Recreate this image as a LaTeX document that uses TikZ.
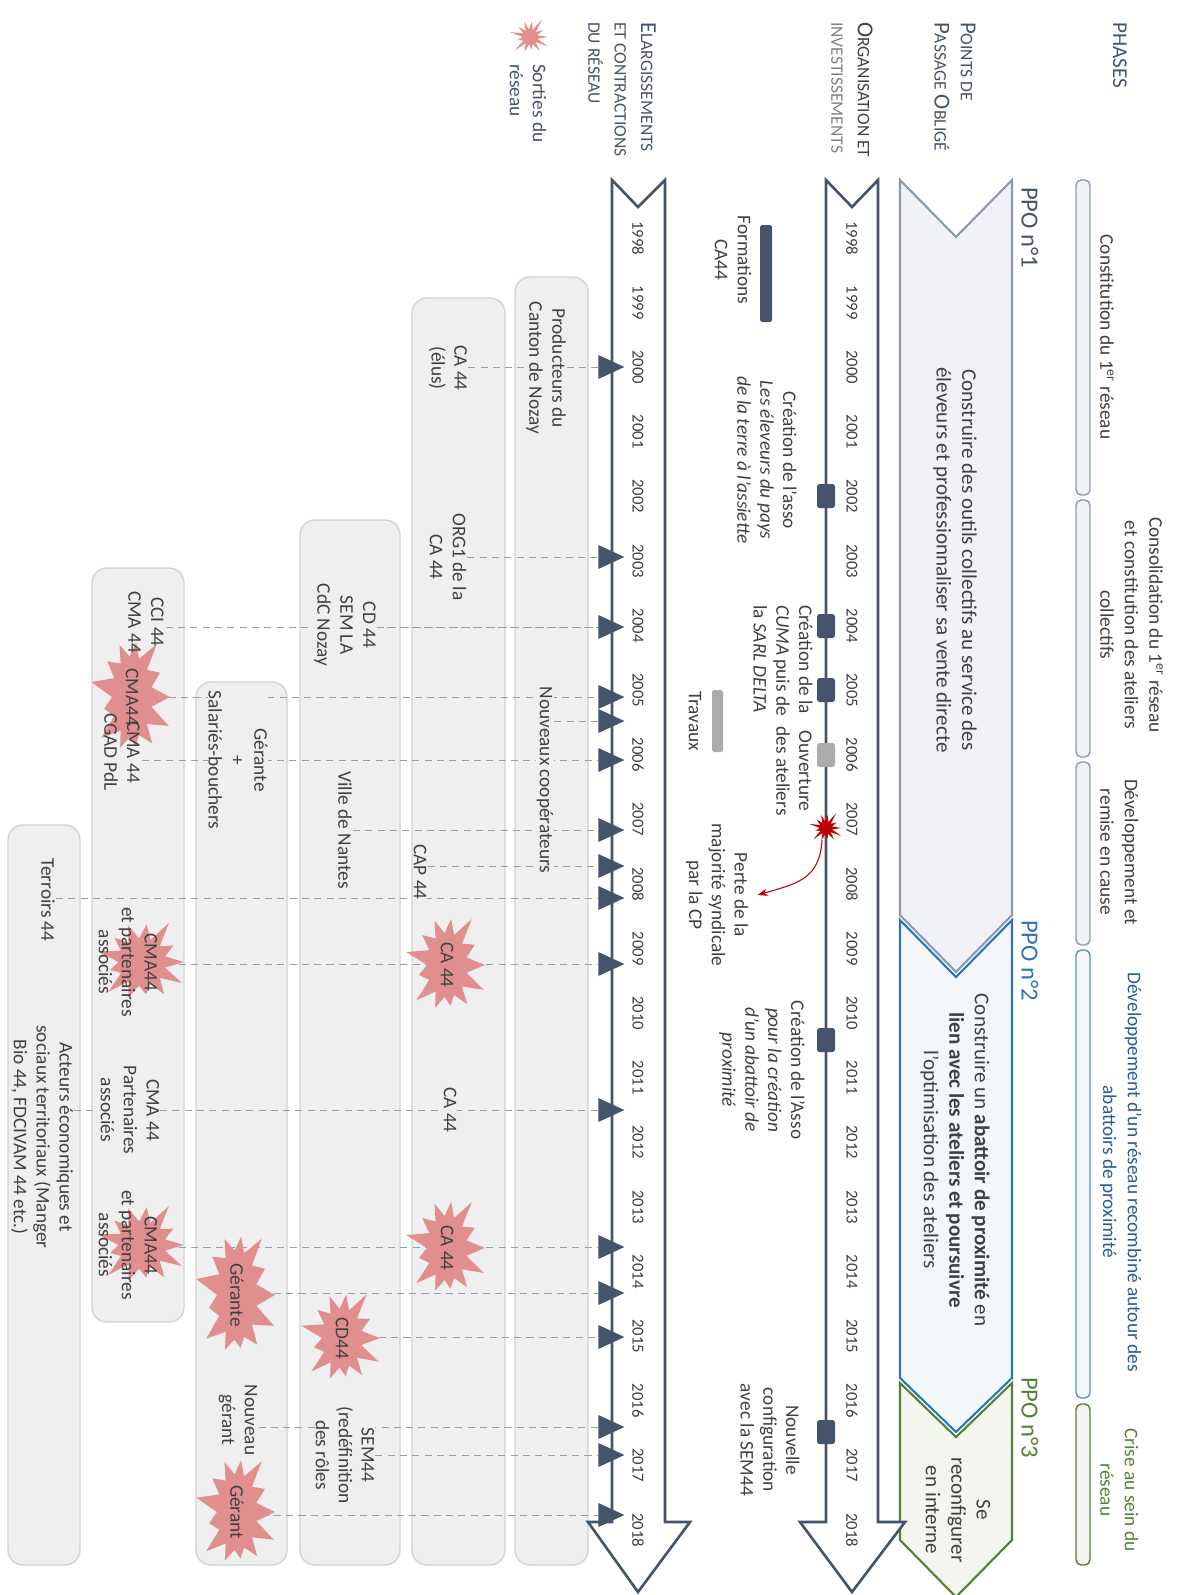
\documentclass[tikz,border=0pt]{standalone}
\usepackage{fontspec}
\setmainfont{Carlito}
\usetikzlibrary{shapes.geometric,shapes.symbols,arrows.meta}

\definecolor{slate}{HTML}{44546A}
\definecolor{txtgray}{HTML}{404040}
\definecolor{boxfill}{HTML}{EFEFEF}
\definecolor{boxline}{HTML}{D2D2D2}
\definecolor{ppoagray}{HTML}{8A9AB3}
\definecolor{ppoafill}{HTML}{F0F2F6}
\definecolor{ppoblue}{HTML}{2E75B6}
\definecolor{ppobfill}{HTML}{F3F7FC}
\definecolor{ppogreen}{HTML}{548235}
\definecolor{ppocfill}{HTML}{F2F6EE}
\definecolor{burstpink}{HTML}{E08E8E}
\definecolor{burstred}{HTML}{C00000}
\definecolor{dashblue}{HTML}{8E9FB9}

\pgfdeclarelayer{back}
\pgfdeclarelayer{mid}
\pgfsetlayers{back,mid,main}

\newcommand\scap[2]{{\fontsize{13}{15}\selectfont #1}{\fontsize{10}{15}\selectfont #2}}

\begin{document}
\begin{tikzpicture}[x=0.02cm, y=-0.02cm, >=Stealth,
  rot/.style={rotate=-90, inner sep=1pt},
  yrlbl/.style={rot, font=\fontsize{9.5}{11}\selectfont, text=txtgray},
  note/.style={rot, align=center, font=\fontsize{11}{13}\selectfont, text=txtgray},
  lbl/.style={note, fill=boxfill, inner sep=0.5pt},
  phtxt/.style={rot, align=center, anchor=south, font=\fontsize{11}{14}\selectfont, text=txtgray},
  ppotxt/.style={rot, align=center, font=\fontsize{12}{14.5}\selectfont, text=txtgray},
  ppolbl/.style={rot, anchor=west, font=\fontsize{14}{16}\selectfont},
  head/.style={rot, anchor=west, align=left, text=slate, font=\fontsize{13}{15}\selectfont},
  phbar/.style={rounded corners=3pt, line width=0.8pt},
  box/.style={draw=boxline, fill=boxfill, line width=0.8pt, rounded corners=0.3cm},
  tline/.style={draw=slate, line width=1.5pt, fill=white},
  burst/.style={starburst, starburst points=13, starburst point height=0.5cm, fill=burstpink,
    minimum width=1.7cm, minimum height=1.8cm, inner sep=0pt, rotate=-90,
    font=\fontsize{11}{13}\selectfont, text=txtgray, align=center},
  tri/.style={isosceles triangle, isosceles triangle stretches, fill=slate,
    minimum width=0.48cm, minimum height=0.52cm, inner sep=0pt, anchor=west},
  sq/.style={fill=slate, rounded corners=1.5pt, minimum width=0.36cm, minimum height=0.48cm, inner sep=0pt},
  link/.style={dash pattern=on 4pt off 3pt, draw=dashblue, line width=0.5pt}]

\useasboundingbox (0,0) rectangle (1190,1595);

% en-tetes
\node[head, font=\fontsize{12}{15}\selectfont] (hphase) at (1120,20) {PHASES};
\node[head] (hppo) at (955,20) {\scap{P}{OINTS DE}\\\scap{P}{ASSAGE} \scap{O}{BLIGÉ}};
\node[head, text=txtgray] (horg) at (852,20) {\scap{O}{RGANISATION ET}\\{\color{gray}\fontsize{10}{15}\selectfont INVESTISSEMENTS}};
\node[head] (hel) at (622,20) {\scap{E}{LARGISSEMENTS}\\{\fontsize{10}{15}\selectfont ET CONTRACTIONS}\\{\fontsize{10}{15}\selectfont DU RÉSEAU}};
\node[burst, minimum width=0.9cm, minimum height=0.9cm, starburst point height=0.3cm] (hstar) at (530,37) {};
\node[head, text=slate, font=\fontsize{11}{13}\selectfont] (hsort) at (528,62) {Sorties du\\réseau};

% phases
\draw[phbar, draw=ppoagray, fill=ppoafill] (1076,180) rectangle (1090,495);
\draw[phbar, draw=ppoagray, fill=ppoafill] (1076,500) rectangle (1090,757);
\draw[phbar, draw=ppoagray, fill=ppoafill] (1076,762) rectangle (1090,945);
\draw[phbar, draw=ppoblue!80, fill=ppobfill] (1076,950) rectangle (1090,1398);
\draw[phbar, draw=ppogreen, fill=ppocfill] (1076,1404) rectangle (1090,1565);

\node[phtxt] (ph1) at (1098,337) {Constitution du 1\textsuperscript{er} réseau};
\node[phtxt] (ph2) at (1098,625) {Consolidation du 1\textsuperscript{er} réseau\\et constitution des ateliers\\collectifs};
\node[phtxt] (ph3) at (1098,852) {Développement et\\remise en cause};
\node[phtxt, text=ppoblue!80!black] (ph4) at (1098,1172) {Développement d’un réseau recombiné autour des\\abattoirs de proximité};
\node[phtxt, text=ppogreen] (ph5) at (1098,1490) {Crise au sein du\\réseau};

% points de passage oblige
\filldraw[draw=ppoagray, fill=ppoafill, line width=1.2pt] (900,180) -- (956,237) -- (1012,180) -- (1012,915) -- (956,972) -- (900,915) -- cycle;
\filldraw[draw=ppoblue, fill=ppobfill, line width=1.2pt] (900,920) -- (956,977) -- (1012,920) -- (1012,1378) -- (956,1432) -- (900,1378) -- cycle;
\filldraw[draw=ppogreen, fill=ppocfill, line width=1.2pt] (900,1383) -- (956,1437) -- (1012,1383) -- (1012,1540) -- (956,1597) -- (900,1540) -- cycle;

\node[ppolbl, text=slate] (ppo1) at (1030,185) {PPO n°1};
\node[ppolbl, text=ppoblue] (ppo2) at (1030,918) {PPO n°2};
\node[ppolbl, text=ppogreen] (ppo3) at (1030,1375) {PPO n°3};

\node[ppotxt] (ppot1) at (955,560) {Construire des outils collectifs au service des\\éleveurs et professionnaliser sa vente directe};
\node[ppotxt] (ppot2) at (955,1160) {Construire un \textbf{abattoir de proximité} en\\\textbf{lien avec les ateliers et poursuivre}\\l’optimisation des ateliers};
\node[ppotxt] (ppot3) at (958,1510) {Se\\reconfigurer\\en interne};

% organisation et investissements
\draw[tline] (826,180) -- (852,207) -- (878,180) -- (878,1522) -- (905,1522) -- (852,1592) -- (800,1522) -- (826,1522) -- cycle;

\foreach \yr [count=\i from 0] in {1998,...,2018}
  \node[yrlbl] (a\yr) at (852,{238+64.6*\i}) {\yr};

\node[sq] (m2002) at (826,496) {};
\node[sq] (m2004) at (826,626) {};
\node[sq] (m2005) at (826,690) {};
\node[sq, fill=gray!65] (m2006) at (826,755) {};
\node[sq] (m2010) at (826,1040) {};
\node[sq] (m2016) at (826,1432) {};
\node[burst, fill=burstred, minimum width=0.75cm, minimum height=0.75cm, starburst point height=0.25cm] (perte) at (826,828) {};

\fill[slate, rounded corners=1pt] (760,225) rectangle (772,322);
\node[note] (form) at (733,260) {Formations\\CA44};
\node[note] (asso) at (767,460) {Création de l’asso\\\textit{Les éleveurs du pays}\\\textit{de la terre à l’assiette}};
\node[note, anchor=west, align=left] (cuma) at (783,603) {Création de la\\\textit{CUMA} puis de\\la \textit{SARL DELTA}};
\node[note] (ouv) at (794,771) {Ouverture\\des ateliers};
\fill[gray!65, rounded corners=1pt] (712,690) rectangle (723,752);
\node[note] (trav) at (695,721) {Travaux};
\node[note] (pertetxt) at (717,895) {Perte de la\\majorité syndicale\\par la CP};
\node[note] (abat) at (762,1070) {Création de l’Asso\\\textit{pour la création}\\\textit{d’un abattoir de}\\\textit{proximité}};
\node[note] (sem) at (770,1440) {Nouvelle\\configuration\\avec la SEM44};

\draw[->, burstred, line width=0.6pt] (perte.center) ++(-4,12) .. controls (820,880) and (795,884) .. ([xshift=0.15cm]pertetxt.north);

% elargissements et contractions
\draw[tline] (612,180) -- (638,207) -- (665,180) -- (665,1522) -- (690,1522) -- (638,1592) -- (588,1522) -- (612,1522) -- cycle;

\foreach \yr [count=\i from 0] in {1998,...,2018}
  \node[yrlbl] (b\yr) at (638,{238+64.6*\i}) {\yr};

\foreach \ty [count=\k] in {367,557,627,697,721,760,830,866,898,964,1110,1247,1293,1337,1427,1455,1515}
  \node[tri] (t\k) at (598,\ty) {};

\begin{pgfonlayer}{back}
\draw[box] (515,277) rectangle (588,1565);
\draw[box] (412,298) rectangle (505,1565);
\draw[box] (300,520) rectangle (400,1565);
\draw[box] (196,682) rectangle (287,1565);
\draw[box] (92,568) rectangle (184,1322);
\draw[box] (8,825) rectangle (80,1565);
\end{pgfonlayer}

\node[lbl] (prod) at (546,368) {Producteurs du\\Canton de Nozay};
\node[lbl] (coop) at (545,780) {Nouveaux coopérateurs};

\node[lbl] (caelus) at (448,368) {CA 44\\(élus)};
\node[lbl] (org) at (448,557) {ORG1 de la\\CA 44};
\node[lbl] (cap) at (420,872) {CAP 44};
\node[burst] (ca09) at (447,965) {CA 44};
\node[lbl] (ca11) at (450,1110) {CA 44};
\node[burst] (ca13) at (447,1248) {CA 44};

\node[lbl] (cd) at (345,625) {CD 44\\SEM LA\\CdC Nozay};
\node[lbl] (nantes) at (345,830) {Ville de Nantes};
\node[burst] (cd15) at (342,1338) {CD44};
\node[lbl] (sem44) at (345,1455) {SEM44\\(redéfinition\\des rôles};

\node[lbl] (gerante) at (238,760) {Gérante\\+\\Salariés-bouchers};
\node[burst] (ger14) at (237,1295) {Gérante};
\node[lbl] (nouv) at (238,1420) {Nouveau\\gérant};
\node[burst] (ger18) at (237,1512) {Gérant};

\node[burst] (cma05) at (132,697) {CMA44};
\node[note] (cci) at (146,622) {CCI 44\\CMA 44};
\node[note] (cgad) at (122,752) {CMA 44\\CGAD PdL};
\node[burst, minimum width=1.95cm, minimum height=1.95cm] (cma09) at (142,962) {};
\node[note] (cma09t) at (128,962) {CMA44\\et partenaires\\associés};
\node[lbl] (cma11) at (130,1110) {CMA 44\\Partenaires\\associés};
\node[burst, minimum width=1.95cm, minimum height=1.95cm] (cma13) at (142,1245) {};
\node[note] (cma13t) at (128,1245) {CMA44\\et partenaires\\associés};

\node[lbl] (terr) at (48,900) {Terroirs 44};
\node[lbl] (acteurs) at (42,1137) {Acteurs économiques et\\sociaux territoriaux (Manger\\Bio 44, FDCIVAM 44 etc.)};

\begin{pgfonlayer}{mid}
\draw[link] (caelus.north |- t1.west) -- (t1.west);
\draw[link] (org.north |- t2.west) -- (t2.west);
\draw[link] (cci.north |- t3.west) -- (t3.west);
\draw[link] (cd.north |- t3.west) -- (t3.west);
\draw[link] (cma05.center |- t4.west) -- (t4.west);
\draw[link] (coop.north |- t5.west) -- (t5.west);
\draw[link] (cgad.north |- t6.west) -- (t6.west);
\draw[link] (nantes.north |- t7.west) -- (t7.west);
\draw[link] (cap.north |- t8.west) -- (t8.west);
\draw[link] (terr.north |- t9.west) -- (t9.west);
\draw[link] (cma09.center |- t10.west) -- (t10.west);
\draw[link] (acteurs.north |- t11.west) -- (t11.west);
\draw[link] (cma13.center |- t12.west) -- (t12.west);
\draw[link] (ger14.center |- t13.west) -- (t13.west);
\draw[link] (cd15.center |- t14.west) -- (t14.west);
\draw[link] (nouv.north |- t15.west) -- (t15.west);
\draw[link] (sem44.north |- t16.west) -- (t16.west);
\draw[link] (ger18.center |- t17.west) -- (t17.west);
\end{pgfonlayer}

\end{tikzpicture}
\end{document}
